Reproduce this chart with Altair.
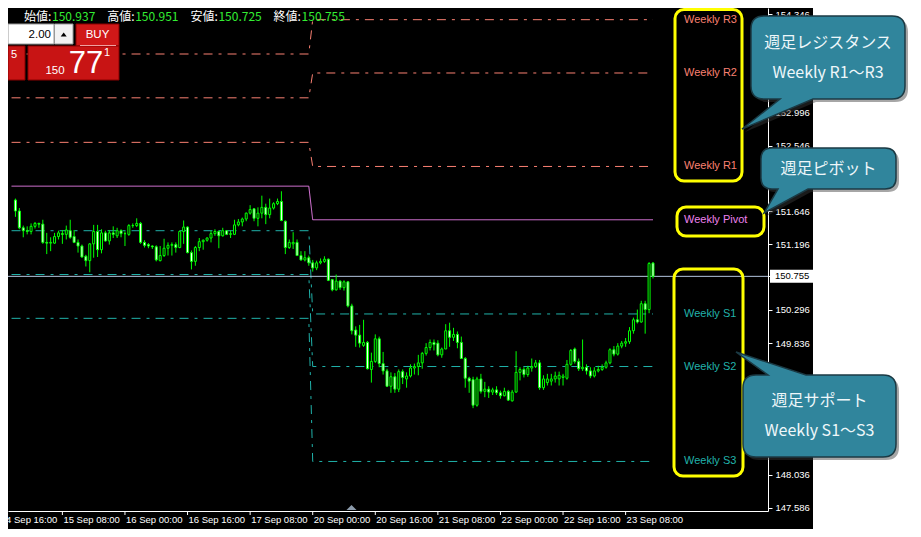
import altair as alt
import pandas as pd

# ---------------- data ----------------
opens = [151.80, 151.65, 151.42, 151.38, 151.37, 151.44, 151.48, 151.47, 151.22, 151.21,
         151.21, 151.30, 151.34, 151.33, 151.38, 151.30, 151.22, 151.17, 151.03, 150.97,
         151.20, 151.37, 151.12, 151.35, 151.24, 151.35, 151.31, 151.38, 151.34, 151.33,
         151.45, 151.45, 151.48, 151.22, 151.19, 151.17, 151.16, 150.97, 151.04, 151.14,
         151.18, 151.19, 151.15, 151.37, 151.43, 151.08, 150.96, 151.15, 151.23, 151.25,
         151.28, 151.34, 151.37, 151.31, 151.38, 151.33, 151.33, 151.46, 151.50, 151.54,
         151.62, 151.68, 151.55, 151.62, 151.70, 151.60, 151.69, 151.75, 151.78, 151.51,
         151.15, 151.20, 151.22, 151.04, 150.98, 151.01, 150.94, 150.87, 150.94, 150.96,
         150.99, 150.71, 150.57, 150.69, 150.60, 150.68, 150.35, 150.02, 149.95, 149.81,
         149.85, 149.48, 149.59, 149.90, 149.56, 149.46, 149.25, 149.38, 149.21, 149.45,
         149.35, 149.39, 149.50, 149.52, 149.57, 149.70, 149.78, 149.85, 149.84, 149.68,
         149.76, 150.01, 149.92, 149.96, 149.85, 149.63, 149.36, 149.34, 148.99, 149.35,
         149.18, 149.21, 149.17, 149.20, 149.16, 149.12, 149.18, 149.05, 149.17, 149.44,
         149.48, 149.41, 149.50, 149.52, 149.57, 149.23, 149.30, 149.32, 149.35, 149.35,
         149.37, 149.36, 149.55, 149.76, 149.59, 149.49, 149.51, 149.46, 149.39, 149.46,
         149.48, 149.51, 149.57, 149.75, 149.69, 149.80, 149.84, 149.86, 150.01, 150.16,
         150.13, 150.38, 150.30, 150.937]
highs = [151.82, 151.69, 151.45, 151.44, 151.48, 151.50, 151.49, 151.53, 151.35, 151.29,
         151.35, 151.38, 151.39, 151.45, 151.53, 151.39, 151.26, 151.19, 151.05, 151.21,
         151.46, 151.46, 151.40, 151.38, 151.39, 151.44, 151.42, 151.40, 151.37, 151.47,
         151.48, 151.55, 151.50, 151.25, 151.21, 151.18, 151.18, 151.17, 151.27, 151.22,
         151.22, 151.22, 151.38, 151.52, 151.44, 151.11, 151.17, 151.28, 151.26, 151.29,
         151.38, 151.40, 151.38, 151.42, 151.39, 151.38, 151.53, 151.54, 151.56, 151.63,
         151.73, 151.69, 151.70, 151.86, 151.75, 151.82, 151.77, 151.82, 151.92, 151.52,
         151.26, 151.36, 151.26, 151.10, 151.10, 151.04, 150.98, 150.97, 151.00, 151.03,
         151.00, 150.72, 150.78, 150.70, 150.70, 150.69, 150.38, 150.07, 150.09, 150.16,
         149.87, 149.71, 149.96, 149.93, 149.72, 149.49, 149.44, 149.43, 149.48, 149.48,
         149.44, 149.55, 149.56, 149.68, 149.72, 149.84, 149.89, 149.89, 149.88, 149.78,
         150.10, 150.12, 150.05, 150.00, 149.93, 149.65, 149.38, 149.38, 149.38, 149.42,
         149.31, 149.25, 149.23, 149.25, 149.19, 149.23, 149.20, 149.20, 149.73, 149.51,
         149.51, 149.53, 149.63, 149.61, 149.61, 149.40, 149.42, 149.42, 149.45, 149.45,
         149.42, 149.61, 149.76, 149.78, 149.63, 149.89, 149.55, 149.51, 149.51, 149.53,
         149.55, 149.60, 149.77, 149.80, 149.84, 149.87, 149.91, 150.06, 150.19, 150.30,
         150.42, 150.42, 150.95, 150.951]
lows = [151.57, 151.40, 151.29, 151.33, 151.33, 151.41, 151.42, 151.20, 151.06, 151.10,
        151.20, 151.26, 151.20, 151.26, 151.27, 151.21, 151.08, 151.01, 150.89, 150.81,
        151.01, 151.02, 151.07, 151.23, 151.19, 151.28, 151.28, 151.29, 151.17, 151.31,
        151.42, 151.43, 151.20, 151.15, 151.14, 151.13, 150.96, 150.96, 151.02, 151.04,
        151.04, 151.08, 151.14, 151.20, 151.07, 150.85, 150.90, 151.10, 151.12, 151.23,
        151.22, 151.31, 151.14, 151.30, 151.32, 151.28, 151.32, 151.44, 151.44, 151.51,
        151.60, 151.51, 151.44, 151.55, 151.47, 151.55, 151.67, 151.73, 151.51, 151.06,
        151.13, 151.13, 151.04, 150.97, 150.96, 150.90, 150.82, 150.84, 150.92, 150.94,
        150.69, 150.55, 150.56, 150.57, 150.56, 150.33, 149.96, 149.79, 149.78, 149.79,
        149.48, 149.30, 149.57, 149.51, 149.41, 149.24, 149.16, 149.16, 149.17, 149.28,
        149.23, 149.37, 149.41, 149.40, 149.49, 149.67, 149.74, 149.74, 149.66, 149.64,
        149.76, 149.79, 149.87, 149.77, 149.63, 149.23, 149.16, 148.95, 148.97, 149.15,
        149.10, 149.09, 149.13, 149.13, 149.08, 149.11, 149.05, 149.04, 149.16, 149.33,
        149.37, 149.38, 149.45, 149.50, 149.20, 149.20, 149.26, 149.26, 149.30, 149.26,
        149.26, 149.34, 149.53, 149.56, 149.46, 149.46, 149.41, 149.36, 149.37, 149.44,
        149.46, 149.49, 149.55, 149.66, 149.67, 149.77, 149.79, 149.83, 149.97, 150.11,
        150.12, 149.97, 150.25, 150.725]
closes = [151.65, 151.42, 151.38, 151.37, 151.44, 151.48, 151.47, 151.22, 151.21, 151.22,
          151.30, 151.35, 151.33, 151.39, 151.29, 151.22, 151.17, 151.02, 150.97, 151.20,
          151.37, 151.12, 151.35, 151.24, 151.35, 151.33, 151.38, 151.34, 151.34, 151.45,
          151.45, 151.48, 151.22, 151.18, 151.17, 151.16, 150.98, 151.04, 151.14, 151.18,
          151.19, 151.15, 151.37, 151.43, 151.08, 150.96, 151.15, 151.23, 151.25, 151.28,
          151.34, 151.37, 151.31, 151.38, 151.33, 151.34, 151.46, 151.50, 151.54, 151.62,
          151.67, 151.55, 151.62, 151.70, 151.60, 151.69, 151.75, 151.78, 151.52, 151.15,
          151.22, 151.22, 151.04, 150.98, 151.01, 150.94, 150.87, 150.94, 150.96, 150.99,
          150.70, 150.57, 150.69, 150.60, 150.68, 150.35, 150.01, 149.95, 149.84, 149.85,
          149.49, 149.59, 149.90, 149.56, 149.46, 149.25, 149.38, 149.21, 149.45, 149.37,
          149.39, 149.50, 149.52, 149.57, 149.70, 149.78, 149.85, 149.82, 149.68, 149.76,
          150.01, 149.92, 149.96, 149.85, 149.63, 149.36, 149.32, 148.99, 149.35, 149.18,
          149.21, 149.17, 149.20, 149.16, 149.12, 149.18, 149.06, 149.17, 149.44, 149.48,
          149.41, 149.50, 149.52, 149.57, 149.23, 149.35, 149.35, 149.35, 149.39, 149.40,
          149.39, 149.55, 149.74, 149.59, 149.49, 149.51, 149.46, 149.39, 149.46, 149.48,
          149.51, 149.57, 149.75, 149.69, 149.80, 149.84, 149.86, 150.01, 150.16, 150.13,
          150.38, 150.30, 150.93, 150.755]

time_tick_index = [-4, 12, 28, 44, 60, 76, 92, 108, 124, 140, 156]
time_tick_labels = ["14 Sep 16:00", "15 Sep 08:00", "16 Sep 00:00", "16 Sep 16:00",
                    "17 Sep 08:00", "20 Sep 00:00", "20 Sep 16:00", "21 Sep 08:00",
                    "22 Sep 00:00", "22 Sep 16:00", "23 Sep 08:00"]
# price-scale labels that are visible in the reference (the others sit under the callouts)
price_ticks = [154.346, 152.996, 152.546, 151.646, 151.196,
               150.296, 149.836, 148.036, 147.586]

level_names = ["R3", "R2", "R1", "Pivot", "S1", "S2", "S3"]
last_week_levels = [153.80, 153.20, 152.59, 151.99, 151.38, 150.78, 150.18]
this_week_levels = [154.27, 153.54, 152.26, 151.53, 150.24, 149.52, 148.22]
week_start_index = 76
first_index = -1
last_index = 163

current_price = 150.755
header_names = ["始値", "高値", "安値", "終値"]
header_values = [150.937, 150.951, 150.725, 150.755]

# ---------------- styles ----------------
level_colors = ["#FA8072", "#FA8072", "#FA8072", "#EE82EE", "#20B2AA", "#20B2AA", "#20B2AA"]
LIME = "#00FF00"
W, H = 760, 503
XS = alt.Scale(domain=[-0.625, 191.125], nice=False, zero=False)
YS = alt.Scale(domain=[147.5415, 154.43], nice=False, zero=False)
X_AX = alt.Axis(orient="bottom", domain=True, domainColor="white", labels=False,
                ticks=False, grid=False, title=None)
Y_AX = alt.Axis(orient="right", values=price_ticks + [current_price], format=".3f",
                labelColor="white", labelFont="Liberation Sans", labelFontSize=9.5,
                tickColor="white", tickSize=4, domainColor="white", grid=False,
                title=None, labelPadding=3, labelOverlap=False, labelBound=False,
                labelFlush=False)
LVL_COLOR = alt.Color("level:N", scale=alt.Scale(domain=level_names, range=level_colors),
                      legend=None)

candles = pd.DataFrame({"i": list(range(len(opens))), "open": opens, "high": highs,
                        "low": lows, "close": closes})

rows = []
for name, old, new in zip(level_names, last_week_levels, this_week_levels):
    kind = "solid" if name == "Pivot" else "dash"
    for i, p in ((first_index, old), (week_start_index - 1, old),
                 (week_start_index, new), (last_index, new)):
        rows.append({"i": i, "price": p, "level": name, "kind": kind})
levels = pd.DataFrame(rows)
level_labels = pd.DataFrame({"level": level_names, "price": this_week_levels,
                             "text": ["Weekly " + n for n in level_names]})
ticks_df = pd.DataFrame({"i": time_tick_index, "label": time_tick_labels})
cur_df = pd.DataFrame({"p": [current_price]})
one = pd.DataFrame({"k": [0]})

layers = []

# white area on the right
layers.append(alt.Chart(one).mark_rect(color="white").encode(
    x=alt.value(805), x2=alt.value(910), y=alt.value(-20), y2=alt.value(540)))

# pivot levels
layers.append(alt.Chart(levels).mark_line(strokeWidth=1).encode(
    x=alt.X("i:Q", scale=XS, axis=X_AX),
    y=alt.Y("price:Q", scale=YS, axis=Y_AX),
    color=LVL_COLOR, detail="level:N",
    strokeDash=alt.StrokeDash("kind:N", scale=alt.Scale(domain=["dash", "solid"],
                                                        range=[[9, 6, 3, 6], [1, 0]]),
                              legend=None)))

# current price line
layers.append(alt.Chart(cur_df).mark_rule(color="#B4C6DE", strokeWidth=1).encode(
    y=alt.Y("p:Q", scale=YS, axis=Y_AX)))

# candles
layers.append(alt.Chart(candles).mark_rule(color=LIME, strokeWidth=1).encode(
    x=alt.X("i:Q", scale=XS, axis=X_AX),
    y=alt.Y("low:Q", scale=YS, axis=Y_AX), y2="high:Q"))
layers.append(alt.Chart(candles).mark_bar(size=2, stroke=LIME, strokeWidth=1).encode(
    x=alt.X("i:Q", scale=XS, axis=X_AX),
    y=alt.Y("open:Q", scale=YS, axis=Y_AX), y2="close:Q",
    fill=alt.condition("datum.close < datum.open", alt.value("white"), alt.value("black"))))

# level labels
layers.append(alt.Chart(level_labels).mark_text(align="left", baseline="middle",
                                                font="Liberation Sans", fontSize=11).encode(
    x=alt.value(676), y=alt.Y("price:Q", scale=YS, axis=Y_AX), text="text:N",
    color=LVL_COLOR))

# yellow highlight boxes
for (x0, y0, x1, y1) in [(667, 1.5, 734, 173), (669, 199, 756, 228), (666, 261, 735, 468)]:
    layers.append(alt.Chart(one).mark_rect(stroke="#FFFF00", strokeWidth=3, fill="black",
                                           fillOpacity=0, cornerRadius=9).encode(
        x=alt.value(x0), x2=alt.value(x1), y=alt.value(y0), y2=alt.value(y1)))

# time axis ticks and labels
layers.append(alt.Chart(ticks_df).mark_rule(color="white", strokeWidth=1).encode(
    x=alt.X("i:Q", scale=XS, axis=X_AX), y=alt.value(H), y2=alt.value(H + 4)))
layers.append(alt.Chart(ticks_df).mark_text(align="left", baseline="middle", dx=1,
                                            font="Liberation Sans", fontSize=9.5,
                                            color="white").encode(
    x=alt.X("i:Q", scale=XS, axis=X_AX), y=alt.value(H + 9), text="label:N"))

# header (OHLC)
for k, (nm, v) in enumerate(zip(header_names, header_values)):
    hx = 16 + k * 83.2
    layers.append(alt.Chart(one).mark_text(align="left", baseline="middle",
                                           font="Noto Sans CJK JP", fontSize=12,
                                           color="white").encode(
        x=alt.value(hx), y=alt.value(8.5), text=alt.value(nm + ":")))
    layers.append(alt.Chart(one).mark_text(align="left", baseline="middle",
                                           font="Noto Sans CJK JP", fontSize=12,
                                           color="#33EE33").encode(
        x=alt.value(hx + 28), y=alt.value(8.5), text=alt.value(f"{v:.3f}")))

# one-click trading panel
def rect(x0, y0, x1, y1, fill, stroke, sw=1):
    return alt.Chart(one).mark_rect(fill=fill, stroke=stroke, strokeWidth=sw).encode(
        x=alt.value(x0), x2=alt.value(x1), y=alt.value(y0), y2=alt.value(y1))

layers.append(rect(0, 16, 46, 36, "white", "#999999"))
layers.append(rect(46.5, 16, 65, 36, "#F2F2F2", "#999999"))
layers.append(rect(68, 16, 111, 38, "#D01818", "#8A0000"))
layers.append(rect(20, 38, 111, 72, "#C81414", "#8A0000"))
layers.append(rect(0, 38, 17, 72, "#C81414", "#8A0000"))
layers.append(alt.Chart(one).mark_rule(color="#F0A0A0", strokeWidth=1).encode(
    x=alt.value(72), x2=alt.value(108), y=alt.value(37.5)))
layers.append(alt.Chart(one).mark_point(shape="M -3 2 L 0 -2 L 3 2 Z", size=4, filled=True,
                                        fill="black", opacity=1).encode(
    x=alt.value(55.7), y=alt.value(26.5)))


def txt(x, y, s, size, color="white", align="center", font="Liberation Sans"):
    return alt.Chart(one).mark_text(align=align, baseline="middle", font=font,
                                    fontSize=size, color=color).encode(
        x=alt.value(x), y=alt.value(y), text=alt.value(s))

layers.append(txt(43, 26.5, "2.00", 11.5, "black", "right"))
layers.append(txt(89.5, 27, "BUY", 11.5))
layers.append(txt(6, 47, "5", 11))
layers.append(txt(47, 62.5, "150", 11.5))
layers.append(txt(78, 56, "77", 31))
layers.append(txt(99, 45, "1", 11))

# current price marker on axis
layers.append(alt.Chart(cur_df).mark_point(shape="M -3 -6.5 H 43 V 6.5 H -3 Z", size=4,
                                           filled=True, fill="white", opacity=1).encode(
    x=alt.value(765), y=alt.Y("p:Q", scale=YS, axis=Y_AX)))
layers.append(alt.Chart(cur_df).mark_text(align="left", baseline="middle",
                                          font="Liberation Sans", fontSize=9.5,
                                          color="black").encode(
    x=alt.value(767), y=alt.Y("p:Q", scale=YS, axis=Y_AX), text=alt.Text("p:Q", format=".3f")))

# chart-shift marker
layers.append(alt.Chart(one).mark_point(shape="M -5 2.5 L 0 -2.5 L 5 2.5 Z", size=4,
                                        filled=True, fill="#8C9BAB", opacity=1).encode(
    x=alt.value(343.5), y=alt.value(499.5)))


# callouts
def callout_path(L, T, R, B, r, side, b1, b2, tip):
    tx, ty = tip
    if side == "bottom":
        return (f"M {L+r} {T} H {R-r} Q {R} {T} {R} {T+r} V {B-r} Q {R} {B} {R-r} {B} "
                f"H {b2} L {tx} {ty} L {b1} {B} H {L+r} Q {L} {B} {L} {B-r} "
                f"V {T+r} Q {L} {T} {L+r} {T} Z")
    return (f"M {L+r} {T} H {b1} L {tx} {ty} L {b2} {T} H {R-r} Q {R} {T} {R} {T+r} "
            f"V {B-r} Q {R} {B} {R-r} {B} H {L+r} Q {L} {B} {L} {B-r} "
            f"V {T+r} Q {L} {T} {L+r} {T} Z")

callouts = [
    (callout_path(743, 8, 897, 91, 13, "bottom", 772, 805, (734, 121)),
     820, 35, "週足レジスタンス\nWeekly R1～R3"),
    (callout_path(753, 140, 888, 181, 11, "bottom", 770, 800, (756, 205)),
     820.5, 160.5, "週足ピボット"),
    (callout_path(735, 367, 888, 449, 13, "top", 760, 798, (728, 344)),
     811.5, 393, "週足サポート\nWeekly S1～S3"),
]
for path, tx, ty, label in callouts:
    layers.append(alt.Chart(one).mark_point(shape=path, size=4, filled=True, fill="#3A3A3A",
                                            opacity=0.45, strokeOpacity=0).encode(
        x=alt.value(3), y=alt.value(3)))
    layers.append(alt.Chart(one).mark_point(shape=path, size=4, filled=True, fill="#30859C",
                                            stroke="#1B3A44", strokeWidth=1.5,
                                            opacity=1).encode(
        x=alt.value(0), y=alt.value(0)))
    layers.append(alt.Chart(one).mark_text(align="center", baseline="middle",
                                           font="Noto Sans CJK JP", fontSize=16,
                                           color="#EEF7FA", lineBreak="\n",
                                           lineHeight=30).encode(
        x=alt.value(tx), y=alt.value(ty), text=alt.value(label)))

chart = alt.layer(*layers).properties(
    width=W, height=H,
    autosize=alt.AutoSizeParams(type="none"),
    padding={"left": 0, "top": 0, "right": 145, "bottom": 18},
).configure(background="black").configure_view(stroke=None)

chart.save("out.html", embed_options={"renderer": "svg", "actions": False})
